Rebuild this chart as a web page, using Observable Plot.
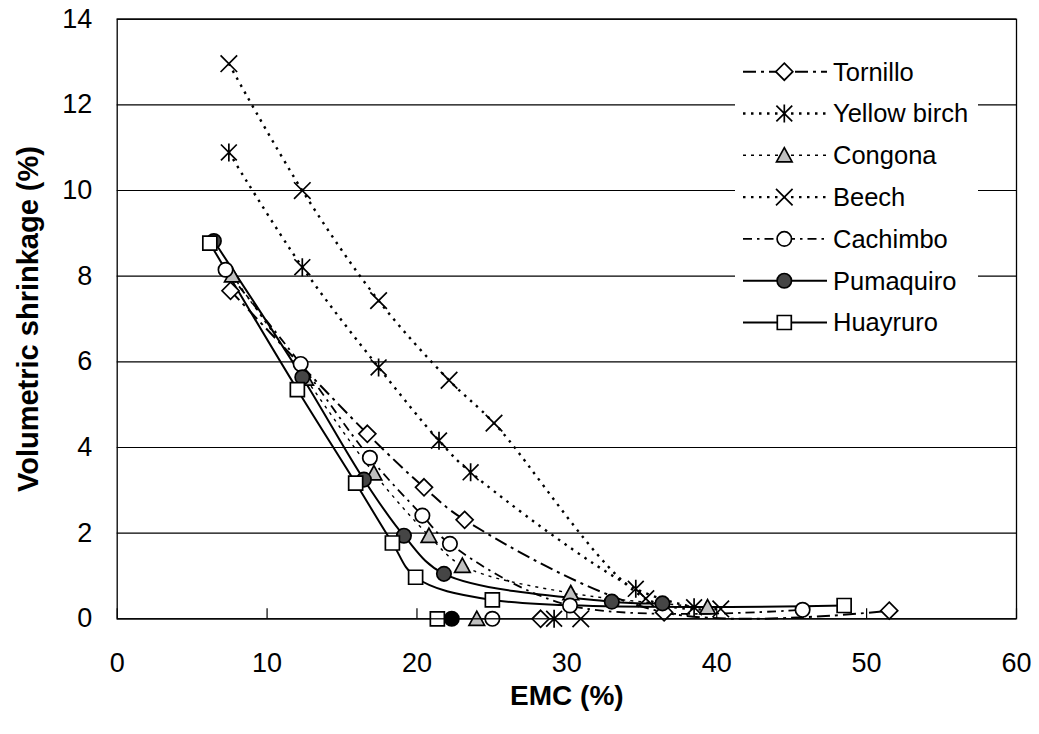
<!DOCTYPE html>
<html><head><meta charset="utf-8">
<script src="https://cdn.jsdelivr.net/npm/d3@7"></script>
<script src="https://cdn.jsdelivr.net/npm/@observablehq/plot@0.6"></script>
<style>
body{margin:0;background:#fff;}
#wrap{position:relative;width:1039px;height:734px;font-family:"Liberation Sans",Arial,sans-serif;}
#legend{position:absolute;left:0;top:0;pointer-events:none;}
</style>
</head><body><div id="wrap"></div>
<script>
// ---- data ----
const seriesNames = ["Tornillo", "Yellow birch", "Congona", "Beech", "Cachimbo", "Pumaquiro", "Huayruro"];
const tornilloEMC   = [7.56, 16.69, 20.47, 23.18, 36.49, 51.51];
const tornilloVS    = [7.66, 4.32, 3.07, 2.31, 0.15, 0.19];
const yellowBirchEMC = [7.45, 12.35, 17.44, 21.47, 23.58, 34.6, 38.49];
const yellowBirchVS  = [10.89, 8.21, 5.87, 4.16, 3.42, 0.70, 0.27];
const congonaEMC    = [7.68, 12.57, 17.13, 20.8, 23.03, 30.26, 39.39];
const congonaVS     = [8.02, 5.61, 3.40, 1.94, 1.24, 0.60, 0.27];
const beechEMC      = [7.45, 12.35, 17.44, 22.14, 25.14, 35.27, 40.27];
const beechVS       = [12.96, 10.0, 7.43, 5.57, 4.57, 0.47, 0.23];
const cachimboEMC   = [7.23, 12.24, 16.86, 20.36, 22.2, 30.21, 45.73];
const cachimboVS    = [8.15, 5.95, 3.76, 2.41, 1.75, 0.31, 0.21];
const pumaquiroEMC  = [6.45, 12.35, 16.46, 19.13, 21.8, 33.0, 36.38];
const pumaquiroVS   = [8.82, 5.64, 3.25, 1.94, 1.05, 0.40, 0.36];
const huayruroEMC   = [6.18, 12.02, 15.91, 18.36, 19.91, 25.03, 48.5];
const huayruroVS    = [8.77, 5.35, 3.17, 1.77, 0.97, 0.44, 0.31];
// EMC where shrinkage reaches zero (points on the x axis)
const zeroEMC = [28.25, 29.15, 23.99, 30.93, 25.03, 22.32, 21.36];
const xTicks = [0, 10, 20, 30, 40, 50, 60];
const yTicks = [0, 2, 4, 6, 8, 10, 12, 14];

// ---- symbols ----
const R = s => Math.sqrt(s / Math.PI);
const symbols = {
  diamond: {draw(c, s){const r = R(s); c.moveTo(0,-r); c.lineTo(r,0); c.lineTo(0,r); c.lineTo(-r,0); c.closePath();}},
  asterisk: {draw(c, s){const r = R(s), d = r*0.88; c.moveTo(-d,-d); c.lineTo(d,d); c.moveTo(-d,d); c.lineTo(d,-d); c.moveTo(0,-r); c.lineTo(0,r);}},
  triangle: {draw(c, s){const r = R(s), h = r*1.7; c.moveTo(0,-h/2-1); c.lineTo(r,h/2); c.lineTo(-r,h/2); c.closePath();}},
  times: {draw(c, s){const r = R(s)*0.72; c.moveTo(-r,-r); c.lineTo(r,r); c.moveTo(-r,r); c.lineTo(r,-r);}},
  circle: {draw(c, s){const r = R(s); c.moveTo(r,0); c.arc(0,0,r,0,2*Math.PI);}},
  square: {draw(c, s){const r = R(s); c.rect(-r,-r,2*r,2*r);}}
};

const styles = [
  {emc: tornilloEMC, vs: tornilloVS, sym: "diamond", r: 8.5, fill: "white", dash: "13,5,3,5", lw: 2},
  {emc: yellowBirchEMC, vs: yellowBirchVS, sym: "asterisk", r: 9, fill: "none", dash: "2.5,5.5", lw: 2.4},
  {emc: congonaEMC, vs: congonaVS, sym: "triangle", r: 7.8, fill: "#c0c0c0", dash: "3,5", lw: 1.4},
  {emc: beechEMC, vs: beechVS, sym: "times", r: 11.5, fill: "none", dash: "2.5,5.5", lw: 2.4},
  {emc: cachimboEMC, vs: cachimboVS, sym: "circle", r: 7.2, fill: "white", dash: "9,5,2.5,5", lw: 1.8},
  {emc: pumaquiroEMC, vs: pumaquiroVS, sym: "circle", r: 7.2, fill: "#454545", dash: null, lw: 2},
  {emc: huayruroEMC, vs: huayruroVS, sym: "square", r: 7, fill: "white", dash: null, lw: 2}
];
const zeroFill = ["white", "none", "#c0c0c0", "none", "white", "black", "white"];

const font = '"Liberation Sans", Arial, sans-serif';
const W = 1039, H = 734;
const mL = 116.7, mT = 18.7, mR = W - 1016, mB = H - 618.3;

const marks = [
  Plot.gridY(yTicks, {stroke: "black", strokeOpacity: 1, strokeWidth: 1.2}),
  Plot.tickX(xTicks, {x: d => d, insetTop: (618.3 - 18.7) - 10, stroke: "black", strokeWidth: 1.2}),
  Plot.axisX({ticks: xTicks, tickSize: 0, tickPadding: 34.5, fontSize: 27, label: null, fill: "black"}),
  Plot.axisY({ticks: yTicks, tickSize: 0, tickPadding: 25, fontSize: 27, label: null, fill: "black"})
];
styles.forEach((st, i) => {
  const pts = st.emc.map((e, j) => ({emc: e, vs: st.vs[j]}));
  marks.push(Plot.line(pts, {x: "emc", y: "vs", curve: "catmull-rom", stroke: "black", strokeWidth: st.lw,
    strokeDasharray: st.dash, strokeLinecap: "butt"}));
});
styles.forEach((st, i) => {
  const pts = st.emc.map((e, j) => ({emc: e, vs: st.vs[j]}));
  pts.push({emc: zeroEMC[i], vs: 0, zero: true});
  marks.push(Plot.dot(pts, {x: "emc", y: "vs", symbol: symbols[st.sym], r: st.r, stroke: "black",
    strokeWidth: 1.7, fill: d => d.zero ? zeroFill[i] : st.fill}));
});
marks.push(Plot.frame({stroke: "black", strokeWidth: 1.3}));
marks.push(Plot.text(["EMC (%)"], {frameAnchor: "bottom", dy: 86, fontSize: 28, fontWeight: "bold", fill: "black", textAnchor: "middle"}));
marks.push(Plot.text(["Volumetric shrinkage (%)"], {frameAnchor: "left", dx: -88, rotate: -90, textAnchor: "middle", fontSize: 29, fontWeight: "bold", fill: "black"}));

const chart = Plot.plot({
  width: W, height: H,
  marginLeft: mL, marginTop: mT, marginRight: mR, marginBottom: mB,
  x: {domain: [0, 60], axis: null},
  y: {domain: [0, 14], axis: null},
  style: {fontFamily: font, background: "white", color: "black"},
  marks
});
const wrap = document.getElementById("wrap");
wrap.appendChild(chart);

// ---- legend overlay ----
const legendTop = 71.7, legendStep = 41.8;
const svg = d3.select(wrap).append("svg").attr("id", "legend").attr("width", W).attr("height", H);
svg.append("rect").attr("x", 735).attr("y", 48).attr("width", 243).attr("height", 298).attr("fill", "white");
seriesNames.forEach((name, i) => {
  const st = styles[i];
  const y = legendTop + i * legendStep;
  const g = svg.append("g");
  g.append("line").attr("x1", 743).attr("x2", 827).attr("y1", y).attr("y2", y)
    .attr("stroke", "black").attr("stroke-width", st.lw).attr("stroke-dasharray", st.dash || null);
  const size = Math.PI * st.r * st.r;
  g.append("path").attr("transform", `translate(784.3,${y})`)
    .attr("d", () => { const p = d3.path(); symbols[st.sym].draw(p, size); return p.toString(); })
    .attr("fill", st.fill).attr("stroke", "black").attr("stroke-width", 1.7);
  g.append("text").attr("x", 833).attr("y", y).attr("dy", "0.35em")
    .attr("font-family", font).attr("font-size", 25.5).attr("fill", "black").text(name);
});
</script>
</body></html>
